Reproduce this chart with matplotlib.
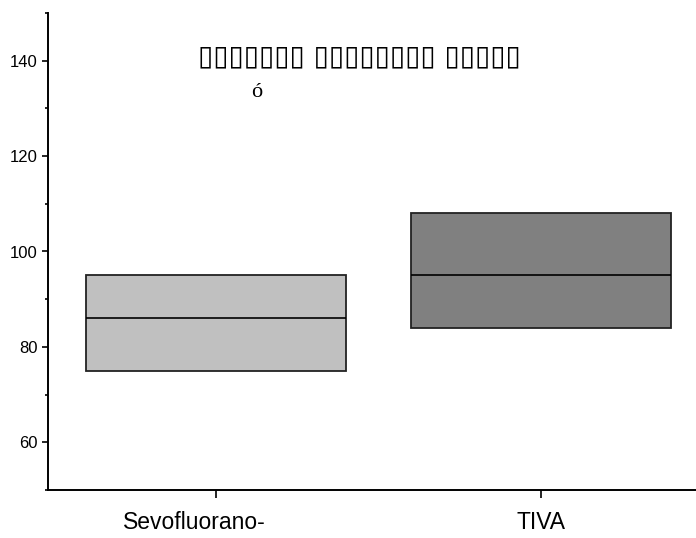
import matplotlib
matplotlib.use("Agg")
import matplotlib.pyplot as plt
import matplotlib.transforms as mtransforms
from matplotlib.ticker import MultipleLocator

# Box statistics (25th pct, median, 75th pct)
groups = ["Sevofluorano-", "TIVA"]
q1 = [75, 84]
median = [86, 95]
q3 = [95, 108]
box_colors = ["#C0C0C0", "#808080"]

# The title's glyphs were missing in the source font and show as empty boxes
TITLE = "\u25af" * 7 + " " + "\u25af" * 8 + " " + "\u25af" * 5
ACCENT = "ó"

plt.rcParams.update({
    "font.family": ["Liberation Sans", "DejaVu Sans"],
    "font.size": 12,
})

fig = plt.figure(figsize=(6.96, 5.38), dpi=100)
ax = fig.add_axes([48 / 696, 1 - 490 / 538, 1 - 48 / 696, (490 - 13) / 538])

x = list(range(1, len(groups) + 1))
heights = [b - a for a, b in zip(q1, q3)]
ax.bar(x, heights, bottom=q1, width=0.8, color=box_colors,
       edgecolor="#222222", linewidth=1.3, zorder=2)
ax.hlines(median, [i - 0.4 for i in x], [i + 0.4 for i in x],
          color="black", linewidth=1.2, zorder=3)

ax.set_xlim(0.483, 2.477)
ax.set_ylim(50, 150)
ax.set_xticks(x)
ax.set_xticklabels(groups, fontsize=16.5)
ax.yaxis.set_major_locator(MultipleLocator(20))
ax.yaxis.set_minor_locator(MultipleLocator(10))
ax.set_yticks([60, 80, 100, 120, 140])

for s in ["top", "right"]:
    ax.spines[s].set_visible(False)
for s in ["left", "bottom"]:
    ax.spines[s].set_linewidth(1.4)
ax.tick_params(axis="y", which="major", length=4.5, width=1.2, pad=3, labelsize=12)
ax.tick_params(axis="y", which="minor", length=2.5, width=1.2)
ax.tick_params(axis="x", which="major", length=6, width=1.2, pad=9)

# the first label sits a little left of its tick in the reference
lbl = ax.get_xticklabels()[0]
lbl.set_transform(lbl.get_transform() + mtransforms.ScaledTranslation(-0.22, 0, fig.dpi_scale_trans))

ax.text(0.481, 140.8, TITLE, transform=ax.get_yaxis_transform(),
        ha="center", va="center", fontsize=20, family="DejaVu Sans")
ax.text(0.322, 133.4, ACCENT, transform=ax.get_yaxis_transform(),
        ha="center", va="center", fontsize=16, family="Liberation Serif")

fig.savefig("out.png", dpi=100)
